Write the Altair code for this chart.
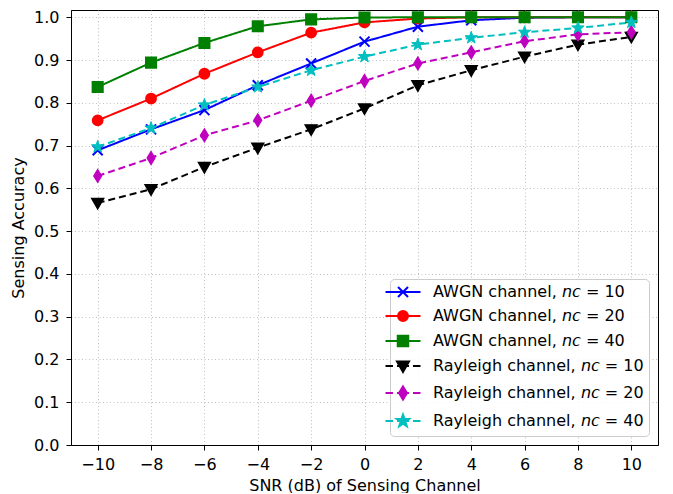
import math
import altair as alt
import pandas as pd

snr_db = [-10, -8, -6, -4, -2, 0, 2, 4, 6, 8, 10]
awgn_10 = [0.689, 0.738, 0.783, 0.841, 0.892, 0.943, 0.978, 0.993, 0.999, 1.0, 1.0]
awgn_20 = [0.759, 0.810, 0.868, 0.918, 0.964, 0.988, 0.997, 1.0, 1.0, 1.0, 1.0]
awgn_40 = [0.837, 0.894, 0.940, 0.979, 0.995, 0.9995, 1.0, 1.0, 1.0, 1.0, 1.0]
rayleigh_10 = [0.566, 0.598, 0.650, 0.695, 0.738, 0.787, 0.841, 0.876, 0.908, 0.936, 0.954]
rayleigh_20 = [0.629, 0.671, 0.724, 0.759, 0.805, 0.851, 0.892, 0.918, 0.944, 0.960, 0.965]
rayleigh_40 = [0.697, 0.741, 0.795, 0.837, 0.876, 0.908, 0.936, 0.952, 0.965, 0.975, 0.988]

series_names = [
    "AWGN channel, 𝘯𝘤 = 10",
    "AWGN channel, 𝘯𝘤 = 20",
    "AWGN channel, 𝘯𝘤 = 40",
    "Rayleigh channel, 𝘯𝘤 = 10",
    "Rayleigh channel, 𝘯𝘤 = 20",
    "Rayleigh channel, 𝘯𝘤 = 40",
]
series_values = [awgn_10, awgn_20, awgn_40, rayleigh_10, rayleigh_20, rayleigh_40]
colors = ["#0000ff", "#ff0000", "#008000", "#000000", "#bf00bf", "#00bfbf"]
dashes = [[1, 0], [1, 0], [1, 0], [7, 4], [7, 4], [7, 4]]
marker_widths = [2, 1, 1, 1, 1, 1]

rows = []
for name, vals in zip(series_names, series_values):
    for x, y in zip(snr_db, vals):
        rows.append({"series": name, "snr": x, "acc": y})
df = pd.DataFrame(rows)

# marker shapes (unit paths)
pts = []
for k in range(10):
    r = 1.3 if k % 2 == 0 else 0.52
    a = math.radians(-90 + 36 * k)
    pts.append(f"{r*math.cos(a):.3f},{r*math.sin(a):.3f}")
star = "M" + "L".join(pts) + "Z"
m_x = "M-1,-1L1,1M-1,1L1,-1"
m_circle = "M1,0A1,1,0,1,1,-1,0A1,1,0,1,1,1,0Z"
m_square = "M-1.05,-1.05H1.05V1.05H-1.05Z"
m_tri = "M-1.2,-0.9L1.2,-0.9L0,1.2Z"
m_diam = "M0,-1.3L0.8,0L0,1.3L-0.8,0Z"
markers = [m_x, m_circle, m_square, m_tri, m_diam, star]
solid = "M-3.5,0H3.5"
dashed = "M-3.5,0H-2M-1.2,0H1.2M2,0H3.5"
legend_shapes = [(solid if i < 3 else dashed) + m for i, m in enumerate(markers)]

dom = series_names
x_enc = alt.X("snr:Q", scale=alt.Scale(domain=[-11, 11], nice=False, zero=False),
              axis=alt.Axis(values=snr_db, format="d", title="SNR (dB) of Sensing Channel",
                            labelPadding=6, titlePadding=5))
y_enc = alt.Y("acc:Q", scale=alt.Scale(domain=[0, 1.017], nice=False),
              axis=alt.Axis(values=[i / 10 for i in range(11)], format=".1f",
                            title="Sensing Accuracy", labelPadding=7, titlePadding=7))

base = alt.Chart(df)

lines = base.mark_line(strokeWidth=2).encode(
    x=x_enc, y=y_enc,
    color=alt.Color("series:N", scale=alt.Scale(domain=dom, range=colors), legend=None),
    strokeDash=alt.StrokeDash("series:N", scale=alt.Scale(domain=dom, range=dashes), legend=None),
)

points = base.mark_point(filled=True, size=100, opacity=1).encode(
    x=x_enc, y=y_enc,
    shape=alt.Shape("series:N", scale=alt.Scale(domain=dom, range=markers), legend=None),
    fill=alt.Fill("series:N", scale=alt.Scale(domain=dom, range=colors), legend=None),
    stroke=alt.Stroke("series:N", scale=alt.Scale(domain=dom, range=colors), legend=None),
    strokeWidth=alt.StrokeWidth("series:N", scale=alt.Scale(domain=dom, range=marker_widths), legend=None),
)

leg = alt.Legend(
    title=None, orient="bottom-right", offset=9,
    fillColor="rgba(255,255,255,0.85)", strokeColor="#cccccc", cornerRadius=4,
    padding=5, rowPadding=6, labelFontSize=16, labelFont="DejaVu Sans", labelColor="black",
    labelOffset=22, symbolOpacity=1, symbolStrokeWidth=2, symbolSize=100, labelLimit=400,
)

legend_layer = base.mark_point(filled=True, size=100, opacity=0).encode(
    x=x_enc, y=y_enc,
    shape=alt.Shape("series:N", scale=alt.Scale(domain=dom, range=legend_shapes), legend=leg),
    fill=alt.Fill("series:N", scale=alt.Scale(domain=dom, range=colors), legend=leg),
    stroke=alt.Stroke("series:N", scale=alt.Scale(domain=dom, range=colors), legend=leg),
)

chart = alt.layer(lines, points, legend_layer).resolve_scale(
    shape="independent", fill="independent", stroke="independent"
).properties(
    width=587, height=435,
    padding={"left": 2, "top": 0, "right": 5, "bottom": 0},
).configure_view(
    stroke="black", strokeWidth=1
).configure_axis(
    labelFont="DejaVu Sans", labelFontSize=16, labelColor="black",
    titleFont="DejaVu Sans", titleFontSize=16, titleFontWeight="normal", titleColor="black",
    tickColor="black", tickSize=5, domainColor="black",
    gridColor="#b0b0b0", gridDash=[1, 2.5], gridWidth=0.8,
)

chart.save("out.html", embed_options={"renderer": "svg", "actions": False})
